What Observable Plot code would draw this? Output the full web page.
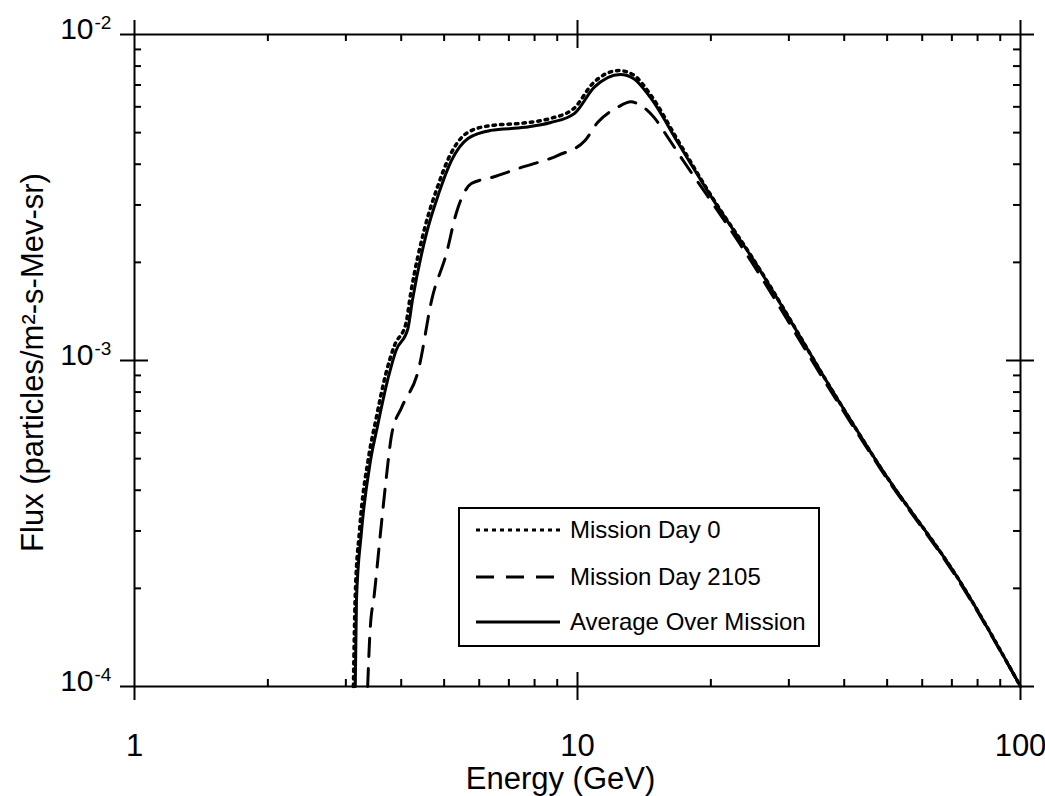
<!DOCTYPE html>
<html><head><meta charset="utf-8">
<script src="https://cdn.jsdelivr.net/npm/d3@7"></script>
<script src="https://cdn.jsdelivr.net/npm/@observablehq/plot@0.6"></script>
<style>
body{margin:0;background:#fff;}
#wrap{position:relative;width:1045px;height:796px;}
#legend{position:absolute;left:458px;top:507px;width:358px;height:136px;border:2px solid #000;background:#fff;font-family:"Liberation Sans",Arial,sans-serif;font-size:24px;color:#000;}
.row{position:absolute;left:16px;height:30px;display:flex;align-items:center;white-space:nowrap;}
.row svg{margin-right:10px;}
</style></head><body><div id="wrap"></div>
<script>
// Mission Day 0 (dotted)
const energyDay0 = [3.12,3.15,3.22,3.38,3.50,3.70,3.86,4.10,4.20,4.52,4.82,5.15,5.62,6.33,7.55,8.65,9.80,10.85,12.4,13.4,14.6,16.9,20.1,24.8,38.8,48.3,73.5,100];
const fluxDay0   = [1e-4,1.9e-4,3.0e-4,5.1e-4,6.5e-4,9.2e-4,1.11e-3,1.30e-3,1.60e-3,2.55e-3,3.38e-3,4.25e-3,4.98e-3,5.25e-3,5.35e-3,5.52e-3,5.92e-3,7.1e-3,7.75e-3,7.5e-3,6.55e-3,4.70e-3,3.18e-3,2.07e-3,7.54e-4,4.70e-4,2.07e-4,1e-4];
// Mission Day 2105 (dashed)
const energyDay2105 = [3.36,3.40,3.48,3.59,3.69,3.81,4.01,4.37,4.70,5.06,5.32,5.76,6.39,7.47,9.04,10.4,11.1,12.3,13.2,13.6,14.9,16.0,17.5,19.5,23.2,38.8,48.3,73.5,100];
const fluxDay2105   = [1e-4,1.46e-4,1.93e-4,2.94e-4,4.20e-4,5.97e-4,7.18e-4,9.31e-4,1.56e-3,2.13e-3,2.82e-3,3.49e-3,3.64e-3,3.91e-3,4.26e-3,4.73e-3,5.37e-3,5.97e-3,6.22e-3,6.15e-3,5.56e-3,4.83e-3,4.02e-3,3.25e-3,2.29e-3,7.40e-4,4.65e-4,2.05e-4,1e-4];
// Average Over Mission (solid)
const energyAvg = [3.15,3.17,3.25,3.41,3.53,3.74,3.89,4.14,4.24,4.56,4.86,5.19,5.66,6.37,7.60,8.70,9.85,10.9,12.5,13.4,14.6,16.9,20.1,24.8,38.8,48.3,73.5,100];
const fluxAvg   = [1e-4,1.84e-4,2.94e-4,4.93e-4,6.22e-4,8.87e-4,1.07e-3,1.25e-3,1.53e-3,2.45e-3,3.25e-3,4.10e-3,4.80e-3,5.08e-3,5.19e-3,5.37e-3,5.73e-3,6.88e-3,7.54e-3,7.32e-3,6.41e-3,4.63e-3,3.16e-3,2.06e-3,7.54e-4,4.70e-4,2.07e-4,1e-4];

const seriesNames = ["Mission Day 0","Mission Day 2105","Average Over Mission"];

const xMajor = [1,10,100];
const xMajorLabels = ["1","10","100"];
const xMinor = [2,3,4,5,6,7,8,9,20,30,40,50,60,70,80,90];
const yMajor = [1e-2,1e-3,1e-4];
const yMajorExp = ["-2","-3","-4"];
const yMinor = [2e-4,3e-4,4e-4,5e-4,6e-4,7e-4,8e-4,9e-4,2e-3,3e-3,4e-3,5e-3,6e-3,7e-3,8e-3,9e-3];
const xTitle = "Energy (GeV)";
const yTitle = "Flux (particles/m²-s-Mev-sr)";

const toRows = (E, F) => E.map((e, i) => ({E: e, F: F[i]}));
const day0 = toRows(energyDay0, fluxDay0);
const day2105 = toRows(energyDay2105, fluxDay2105);
const avg = toRows(energyAvg, fluxAvg);

const W = 1045, H = 796, mL = 134, mR = 25, mT = 34, mB = 110;
const pw = W - mL - mR, ph = H - mT - mB;
const font = "Liberation Sans, Arial, Helvetica, sans-serif";

const plot = Plot.plot({
  width: W, height: H, marginLeft: mL, marginRight: mR, marginTop: mT, marginBottom: mB,
  x: {type: "log", domain: [1, 100], axis: null},
  y: {type: "log", domain: [1e-4, 1e-2], axis: null},
  style: {fontFamily: font, color: "#000", background: "#fff"},
  marks: [
    // frame with overhang
    Plot.ruleX([1, 100], {x: d => d, insetTop: -14, insetBottom: -14, strokeWidth: 2}),
    Plot.ruleY([1e-4, 1e-2], {y: d => d, insetLeft: -14, insetRight: -14, strokeWidth: 2}),
    // minor ticks (inward)
    Plot.tickX(xMinor, {x: d => d, insetTop: ph - 7, strokeWidth: 2}),
    Plot.tickX(xMinor, {x: d => d, insetBottom: ph - 7, strokeWidth: 2}),
    Plot.tickY(yMinor, {y: d => d, insetRight: pw - 7, strokeWidth: 2}),
    Plot.tickY(yMinor, {y: d => d, insetLeft: pw - 7, strokeWidth: 2}),
    // interior major ticks (crossing)
    Plot.tickX([10], {x: d => d, insetTop: ph - 14, insetBottom: -14, strokeWidth: 2}),
    Plot.tickX([10], {x: d => d, insetTop: -14, insetBottom: ph - 14, strokeWidth: 2}),
    Plot.tickY([1e-3], {y: d => d, insetLeft: -14, insetRight: pw - 14, strokeWidth: 2}),
    Plot.tickY([1e-3], {y: d => d, insetLeft: pw - 14, insetRight: -14, strokeWidth: 2}),
    // curves
    Plot.line(day2105, {x: "E", y: "F", curve: "monotone-x", stroke: "#000", strokeWidth: 3, strokeDasharray: "18,12"}),
    Plot.line(avg, {x: "E", y: "F", curve: "monotone-x", stroke: "#000", strokeWidth: 3}),
    Plot.line(day0, {x: "E", y: "F", curve: "monotone-x", stroke: "#000", strokeWidth: 3.5, strokeDasharray: "2.5,5"}),
    // x tick labels
    Plot.text(xMajor, {x: d => d, frameAnchor: "bottom", lineAnchor: "middle", text: (d, i) => xMajorLabels[i], dy: 60, fontSize: 31}),
    // y tick labels 10^n
    Plot.text(yMajor, {y: d => d, frameAnchor: "left", lineAnchor: "middle", text: () => "10", dx: -41, dy: -5, textAnchor: "end", fontSize: 30}),
    Plot.text(yMajor, {y: d => d, frameAnchor: "left", lineAnchor: "middle", text: (d, i) => yMajorExp[i], dx: -40, dy: -12, textAnchor: "start", fontSize: 19}),
    // axis titles
    Plot.text([xTitle], {frameAnchor: "bottom", lineAnchor: "middle", textAnchor: "middle", text: d => d, dx: -17, dy: 93, fontSize: 31}),
    Plot.text([yTitle], {frameAnchor: "left", lineAnchor: "middle", textAnchor: "middle", text: d => d, dx: -101, dy: 2, rotate: -90, fontSize: 31})
  ]
});
document.getElementById("wrap").appendChild(plot);

// legend
const legend = document.createElement("div");
legend.id = "legend";
const styles = [
  {dash: "4,4", width: 3},
  {dash: "18,12", width: 3},
  {dash: null, width: 3}
];
const rowTops = [6, 53, 98];
seriesNames.forEach((name, i) => {
  const row = document.createElement("div");
  row.className = "row";
  row.style.top = rowTops[i] + "px";
  const svg = d3.create("svg").attr("width", 84).attr("height", 10);
  svg.append("line").attr("x1", 0).attr("x2", 84).attr("y1", 5).attr("y2", 5)
    .attr("stroke", "#000").attr("stroke-width", styles[i].width)
    .attr("stroke-dasharray", styles[i].dash);
  row.appendChild(svg.node());
  const span = document.createElement("span");
  span.textContent = name;
  row.appendChild(span);
  legend.appendChild(row);
});
document.getElementById("wrap").appendChild(legend);
</script>
</body></html>
